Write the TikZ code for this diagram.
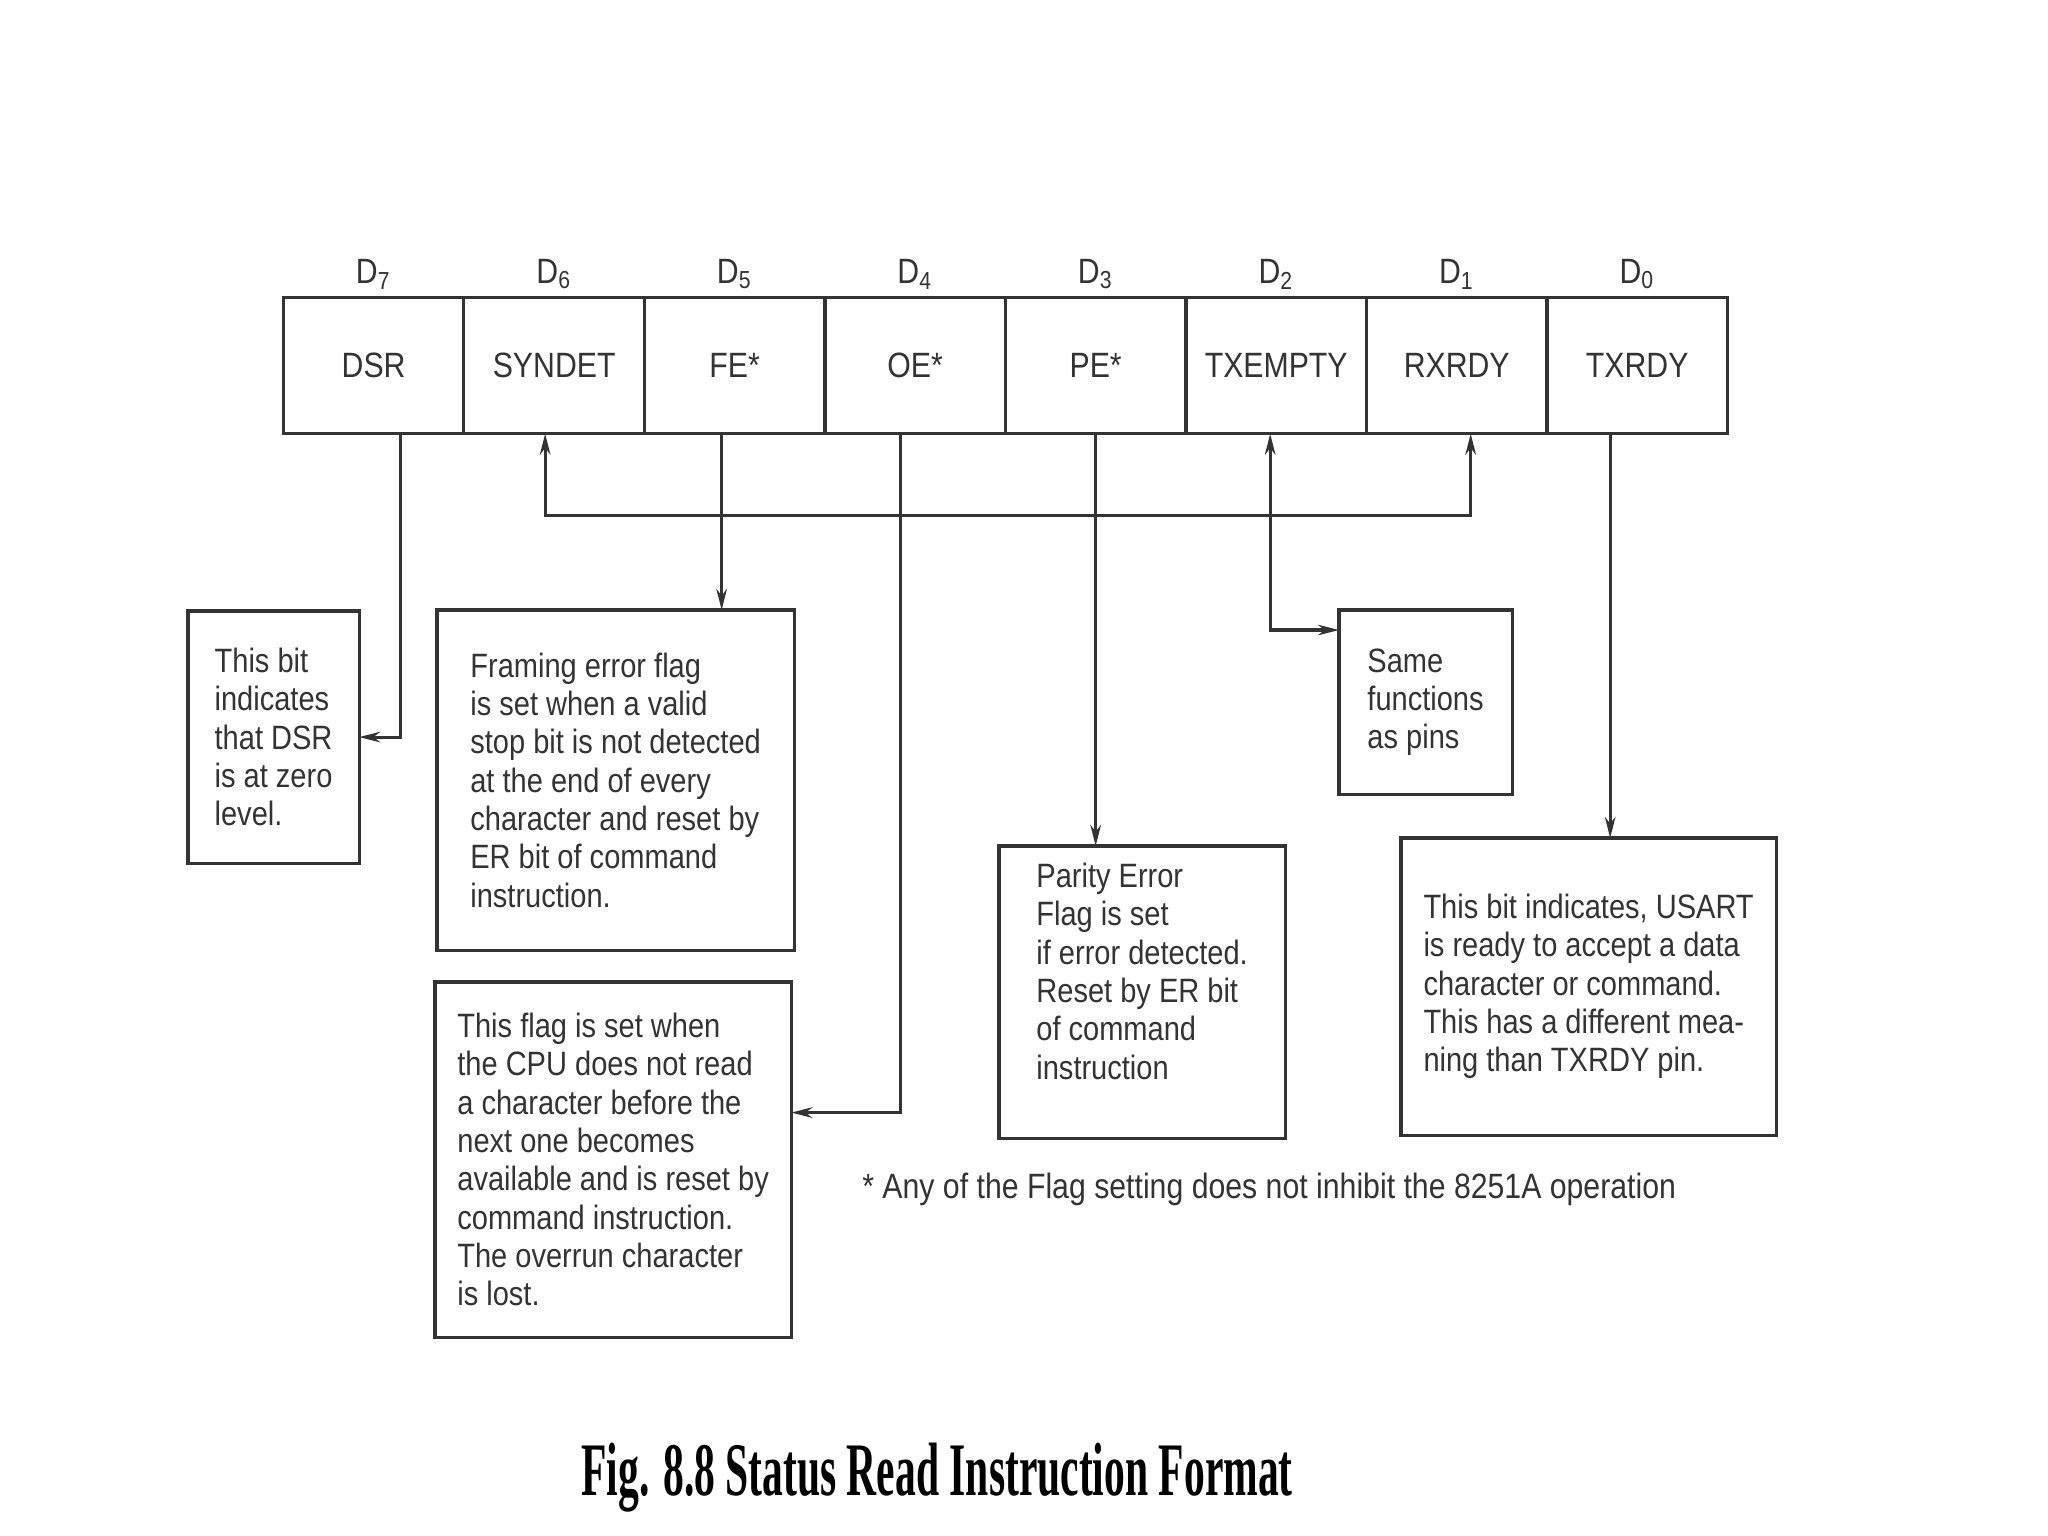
\documentclass[tikz,border=0pt]{standalone}
\usepackage{fontspec}
\setmainfont{Liberation Sans}[FakeStretch=0.86]
\newfontfamily\capfont{Liberation Serif}[FakeStretch=0.55]
\usetikzlibrary{arrows.meta,positioning}
\colorlet{ink}{black!80}
\tikzset{cell/.style={draw,minimum width=1.804cm,minimum height=1.358cm,inner sep=0pt,outer sep=0pt,font=\fontsize{10}{12}\selectfont},
 bl/.style={above,inner sep=2pt,font=\fontsize{10}{12}\selectfont},
 nt/.style={draw,anchor=north west,align=left,outer sep=0pt,inner sep=0pt,font=\fontsize{9.6}{10.9}\selectfont},
 ar/.style={-{Stealth[length=6pt,width=3pt]}},ar2/.style={{Stealth[length=6pt,width=3pt]}-{Stealth[length=6pt,width=3pt]}}}

\begin{document}
\begin{tikzpicture}[x=0.01cm,y=-0.01cm,color=ink,line width=0.9pt]
\useasboundingbox (0,0) rectangle (2048,1536);
\node[cell,anchor=north west](dsr) at (283.4,297.8){DSR};\node[cell,right=0pt of dsr](syndet){SYNDET};
\node[cell,right=0pt of syndet](fe){FE*};\node[cell,right=0pt of fe](oe){OE*};
\node[cell,right=0pt of oe](pe){PE*};\node[cell,right=0pt of pe](txempty){TXEMPTY};
\node[cell,right=0pt of txempty](rxrdy){RXRDY};\node[cell,right=0pt of rxrdy](txrdy){TXRDY};
\foreach \n/\b in {dsr/7,syndet/6,fe/5,oe/4,pe/3,txempty/2,rxrdy/1,txrdy/0}
 \node[bl](d\b) at (\n.north){D\textsubscript{\b}};
\node[nt,minimum width=1.71cm,minimum height=2.52cm](dsrnote) at (188,611){This bit\\indicates\\that DSR\\is at zero\\level.};
\node[nt,minimum width=3.57cm,minimum height=3.40cm](fenote) at (437,610){Framing error flag\\is set when a valid\\stop bit is not detected\\at the end of every\\character and reset by\\ER bit of command\\instruction.};
\node[nt,minimum width=3.56cm,minimum height=3.55cm](oenote) at (435,982){This flag is set when\\the CPU does not read\\a character before the\\next one becomes\\available and is reset by\\command instruction.\\The overrun character\\is lost.};
\node[nt,minimum width=2.86cm,minimum height=2.92cm](penote) at (999,846){Parity Error\\Flag is set\\if error detected.\\Reset by ER bit\\of command\\instruction\\[1pt]\mbox{}};
\node[nt,minimum width=1.73cm,minimum height=1.84cm](pinnote) at (1339,610){Same\\functions\\as pins};
\node[nt,minimum width=3.75cm,minimum height=2.97cm](txnote) at (1401,838){This bit indicates, USART\\is ready to accept a data\\character or command.\\This has a different mea-\\ning than TXRDY pin.};
\draw[ar]([xshift=0.27cm]dsr.south) |- (dsrnote.east);
\draw[ar2]([xshift=-0.09cm]syndet.south) -- ++(0,82) -| ([xshift=0.14cm]rxrdy.south);
\draw[ar2]([xshift=-0.06cm]txempty.south) |- ([yshift=-0.2cm]pinnote.north west);
\draw[ar]([xshift=-0.13cm]fe.south) -- ([xshift=-0.13cm]fe.south |- fenote.north);
\draw[ar]([xshift=-0.15cm]oe.south) |- ([yshift=0.47cm]oenote.east);
\draw[ar](pe.south) -- (pe.south |- penote.north);
\draw[ar]([xshift=-0.27cm]txrdy.south) -- ([xshift=-0.27cm]txrdy.south |- txnote.north);
\node[anchor=west,font=\fontsize{10}{12}\selectfont](foot) at (849,1189){* Any of the Flag setting does not inhibit the 8251A operation};
\node[font=\capfont\bfseries\fontsize{21.5}{24}\selectfont,text=black](cap) at (937,1478){Fig. 8.8 Status Read Instruction Format};
\end{tikzpicture}
\end{document}
